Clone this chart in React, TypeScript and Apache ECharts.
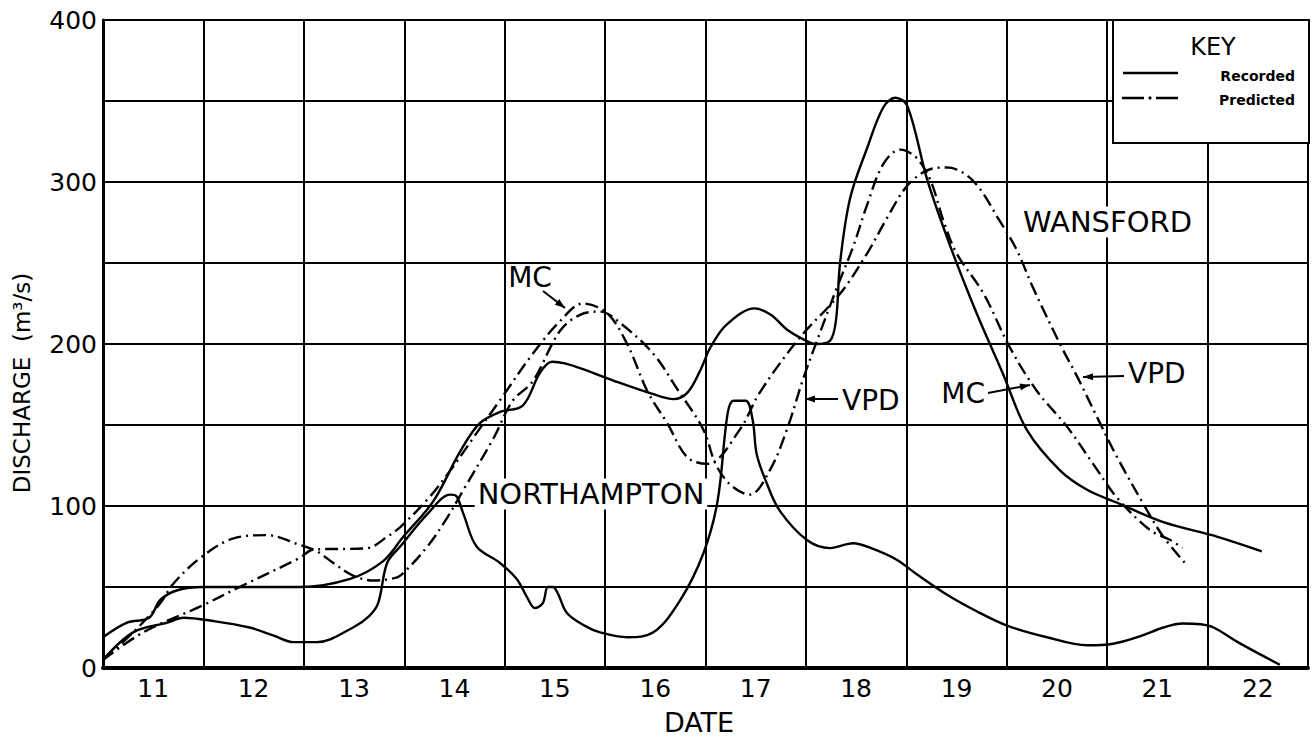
import React, { useEffect, useRef } from "react";
import * as echarts from "echarts";

// ---- Data ----
const dateLabels = ["11", "12", "13", "14", "15", "16", "17", "18", "19", "20", "21", "22"];
const yTicks = [0, 100, 200, 300, 400];

const wansfordRecDays = [10.5, 10.74, 10.96, 11.07, 11.24, 11.5, 12.0, 12.46, 12.96, 13.29, 13.49, 13.79, 14.06, 14.25, 14.45, 14.68, 14.85, 14.97, 15.1, 15.3, 15.6, 15.98, 16.18, 16.32, 16.45, 16.55, 16.71, 16.99, 17.15, 17.31, 17.47, 17.6, 17.74, 17.8, 17.84, 17.94, 18.11, 18.27, 18.39, 18.51, 18.71, 18.94, 19.2, 19.46, 19.7, 20.03, 20.3, 20.6, 21.06, 21.6, 22.04];
const wansfordRecFlow = [19, 28, 31, 42, 48, 50, 50, 50, 55, 66, 81, 103, 134, 151, 158, 162, 182, 189, 188, 184, 177, 169, 166, 170, 184, 198, 212, 222, 218, 209, 203, 200, 202, 215, 250, 290, 321, 346, 352, 347, 301, 260, 219, 182, 147, 122, 110, 102, 90, 81, 72];

const northamptonRecDays = [10.5, 10.8, 11.14, 11.3, 11.6, 11.96, 12.2, 12.4, 12.63, 12.99, 13.15, 13.24, 13.33, 13.46, 13.73, 13.96, 14.02, 14.09, 14.22, 14.45, 14.62, 14.72, 14.8, 14.88, 14.93, 14.98, 15.03, 15.12, 15.3, 15.45, 15.72, 15.98, 16.25, 16.48, 16.62, 16.72, 16.78, 16.9, 16.97, 17.01, 17.11, 17.24, 17.51, 17.74, 17.97, 18.15, 18.4, 18.6, 18.91, 19.2, 19.51, 19.9, 20.3, 20.56, 20.8, 21.06, 21.25, 21.43, 21.56, 21.8, 22.22];
const northamptonRecFlow = [5, 22, 28, 31, 29, 25, 20, 16, 16, 25, 32, 40, 65, 75, 95, 107, 106, 95, 75, 65, 55, 44, 37, 40, 50, 50, 46, 34, 26, 22, 19, 22, 42, 71, 103, 157, 165, 165, 153, 132, 114, 97, 79, 74, 77, 74, 67, 58, 45, 35, 26, 19, 14, 15, 19, 25, 27.5, 27, 25, 16, 2];

// Predicted (MC): flat early limb, first peak ~15.3, trough ~16.5, straight rise
const predMcDays = [10.5, 10.9, 11.47, 11.86, 12.46, 12.59, 13.13, 13.33, 13.46, 13.73, 13.96, 14.22, 14.45, 14.78, 15.05, 15.28, 15.52, 15.72, 15.92, 16.12, 16.32, 16.52, 16.84, 17.04, 17.44, 17.84, 18.11, 18.31, 18.5, 18.7, 18.9, 19.16, 19.43, 19.6, 19.76, 20.03, 20.2, 20.43, 20.6, 20.9, 21.06, 21.3];
const predMcFlow = [5, 22, 38, 50, 68, 73, 74, 81, 87, 104, 122, 145, 165, 194, 214, 225, 219, 200, 171, 151, 130, 126, 147, 170, 204, 231, 256, 278, 297, 307, 309, 301, 276, 258, 235, 200, 180, 151, 130, 97, 81, 63];

// Predicted (VPD): arched early limb, peak ~15.45, trough ~16.9, steep rise
const predVpdDays = [10.5, 10.8, 11.07, 11.2, 11.47, 11.8, 12.13, 12.46, 12.63, 12.79, 12.99, 13.2, 13.36, 13.46, 13.73, 13.93, 14.09, 14.39, 14.58, 14.78, 15.05, 15.25, 15.45, 15.65, 15.98, 16.21, 16.48, 16.6, 16.75, 16.94, 17.14, 17.31, 17.47, 17.61, 17.81, 17.97, 18.11, 18.27, 18.44, 18.6, 18.74, 18.87, 19.0, 19.27, 19.53, 19.8, 20.1, 20.36, 20.6, 20.93, 21.13, 21.25];
const predVpdFlow = [5, 22, 40, 52, 68, 80, 82, 76, 72, 65, 57, 54, 55, 57, 75, 93, 110, 142, 165, 177, 208, 218, 220, 213, 194, 173, 147, 126, 113, 107, 122, 147, 178, 202, 235, 260, 286, 311, 320, 315, 301, 276, 256, 231, 198, 171, 149, 126, 105, 85, 79, 74];

const zip = (xs: number[], ys: number[]) => xs.map((x, i) => [x, ys[i]]);

const FONT = "DejaVu Sans";

function arrowHead(tipX: number, tipY: number, fromX: number, fromY: number) {
  const dx = tipX - fromX;
  const dy = tipY - fromY;
  const len = Math.sqrt(dx * dx + dy * dy) || 1;
  const ux = dx / len;
  const uy = dy / len;
  const L = 10;
  const W = 3.5;
  const bx = tipX - ux * L;
  const by = tipY - uy * L;
  return {
    type: "polygon",
    z: 120,
    shape: {
      points: [
        [tipX, tipY],
        [bx - uy * W, by + ux * W],
        [bx + uy * W, by - ux * W],
      ],
    },
    style: { fill: "#000" },
  };
}

function arrow(x1: number, y1: number, x2: number, y2: number) {
  return [
    { type: "line", z: 120, shape: { x1, y1, x2, y2 }, style: { stroke: "#000", lineWidth: 2 } },
    arrowHead(x2, y2, x1, y1),
  ];
}

function label(text: string, x: number, y: number, align: string, size: number, bg = false) {
  return {
    type: "text",
    z: 110,
    x,
    y,
    style: {
      text,
      fill: "#000",
      font: `${size}px "${FONT}"`,
      align,
      verticalAlign: "middle",
      backgroundColor: bg ? "#fff" : undefined,
      padding: bg ? [1, 3, 1, 3] : undefined,
    },
  };
}

export default function App() {
  const ref = useRef<HTMLDivElement>(null);

  useEffect(() => {
    if (!ref.current) return;
    const chart = echarts.init(ref.current, undefined, { renderer: "svg" });

    const lineBase = {
      type: "line",
      xAxisIndex: 1,
      yAxisIndex: 0,
      showSymbol: false,
      symbol: "none",
      smooth: 0.35,
      z: 5,
    };

    const option: any = {
      animation: false,
      backgroundColor: "#fff",
      grid: {
        left: 103,
        right: 6,
        top: 20,
        bottom: 69,
        show: true,
        borderColor: "#000",
        borderWidth: 2,
        backgroundColor: "transparent",
      },
      xAxis: [
        {
          type: "category",
          data: dateLabels,
          boundaryGap: true,
          position: "bottom",
          axisLine: { show: true, lineStyle: { color: "#000", width: 4 } },
          axisTick: { show: false },
          axisLabel: { color: "#000", fontSize: 25, fontFamily: FONT, margin: 8 },
          splitLine: { show: true, lineStyle: { color: "#000", width: 2 } },
        },
        {
          type: "value",
          min: 10.5,
          max: 22.5,
          show: false,
          splitLine: { show: false },
        },
      ],
      yAxis: {
        type: "value",
        min: 0,
        max: 400,
        interval: 50,
        axisLine: { show: true, lineStyle: { color: "#000", width: 3 } },
        axisTick: { show: false },
        axisLabel: {
          color: "#000",
          fontSize: 25,
          fontFamily: FONT,
          margin: 6,
          formatter: (v: number) => (yTicks.indexOf(v) >= 0 ? String(v) : ""),
        },
        splitLine: { show: true, lineStyle: { color: "#000", width: 2 } },
      },
      series: [
        {
          ...lineBase,
          name: "Wansford recorded",
          data: zip(wansfordRecDays, wansfordRecFlow),
          lineStyle: { color: "#000", width: 2.4, type: "solid" },
        },
        {
          ...lineBase,
          name: "Northampton recorded",
          data: zip(northamptonRecDays, northamptonRecFlow),
          lineStyle: { color: "#000", width: 2.4, type: "solid" },
        },
        {
          ...lineBase,
          name: "MC predicted",
          data: zip(predMcDays, predMcFlow),
          lineStyle: { color: "#000", width: 2.4, type: [13, 5, 2, 5] },
        },
        {
          ...lineBase,
          name: "VPD predicted",
          data: zip(predVpdDays, predVpdFlow),
          lineStyle: { color: "#000", width: 2.4, type: [13, 5, 2, 5] },
        },
      ],
      graphic: [
        // key box
        {
          type: "rect",
          z: 100,
          shape: { x: 1113, y: 20, width: 196, height: 123 },
          style: { fill: "#fff", stroke: "#000", lineWidth: 2 },
        },
        label("KEY", 1213, 47, "center", 24),
        { type: "line", z: 110, shape: { x1: 1123, y1: 73, x2: 1178, y2: 73 }, style: { stroke: "#000", lineWidth: 2.5 } },
        { type: "line", z: 110, shape: { x1: 1122, y1: 98, x2: 1144, y2: 98 }, style: { stroke: "#000", lineWidth: 2.5 } },
        { type: "circle", z: 110, shape: { cx: 1150, cy: 98, r: 1.6 }, style: { fill: "#000" } },
        { type: "line", z: 110, shape: { x1: 1156, y1: 98, x2: 1178, y2: 98 }, style: { stroke: "#000", lineWidth: 2.5 } },
        {
          type: "text",
          z: 110,
          x: 1295,
          y: 76,
          style: { text: "Recorded", fill: "#000", font: `bold 14px "${FONT}"`, align: "right", verticalAlign: "middle" },
        },
        {
          type: "text",
          z: 110,
          x: 1295,
          y: 100,
          style: { text: "Predicted", fill: "#000", font: `bold 14px "${FONT}"`, align: "right", verticalAlign: "middle" },
        },
        // axis titles
        {
          type: "text",
          z: 110,
          x: 22,
          y: 383,
          rotation: Math.PI / 2,
          style: {
            text: "DISCHARGE  (m³/s)",
            fill: "#000",
            font: `23px "${FONT}"`,
            align: "center",
            verticalAlign: "middle",
          },
        },
        label("DATE", 699, 722, "center", 27),
        // annotations
        label("MC", 530, 277, "center", 28),
        ...arrow(543, 291, 565, 308),
        label("NORTHAMPTON", 591, 494, "center", 29, true),
        label("WANSFORD", 1020, 222, "left", 29, true),
        label("VPD", 842, 400, "left", 28),
        ...arrow(838, 399, 805, 399),
        label("MC", 985, 393, "right", 28),
        ...arrow(988, 393, 1030, 385),
        label("VPD", 1128, 373, "left", 28),
        ...arrow(1124, 376, 1083, 377),
      ],
    };

    chart.setOption(option);
    return () => chart.dispose();
  }, []);

  return (
    <div
      ref={ref}
      style={{ position: "fixed", left: 0, top: 0, width: 1314, height: 737, background: "#fff" }}
    />
  );
}
